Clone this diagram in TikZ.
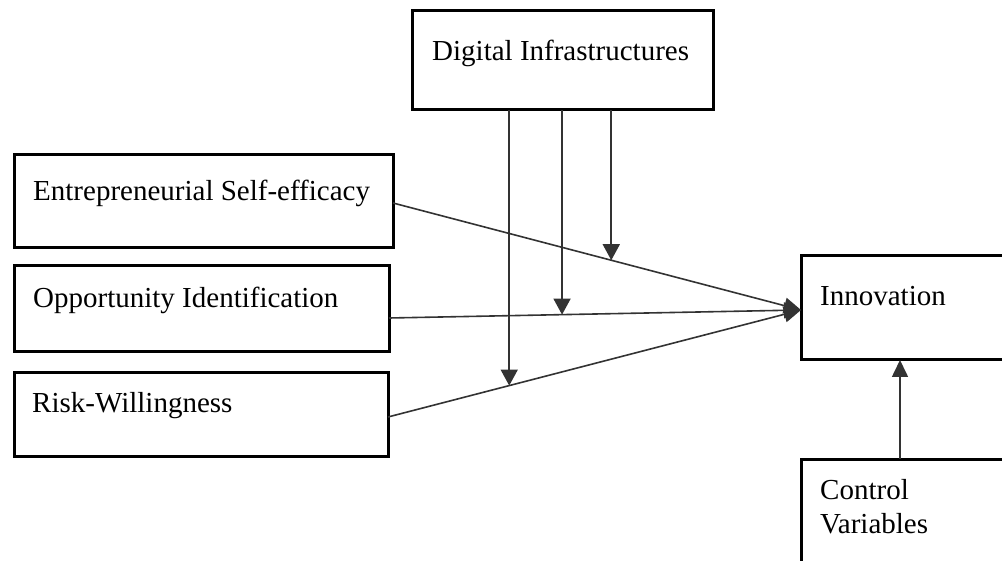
\documentclass[tikz,border=0pt]{standalone}
\usepackage{fontspec}
\setmainfont{Liberation Serif}
\usetikzlibrary{arrows.meta,calc}
\begin{document}
\begin{tikzpicture}[x=1pt,y=-1pt,
  box/.style={draw,line width=3pt,rectangle,inner sep=0pt,outer sep=0pt,anchor=north west},
  lbl/.style={anchor=base west,inner sep=0pt,font=\fontsize{29}{34}\selectfont},
  conn/.style={draw=black!80,line width=1.6pt,-{Triangle[length=17pt,width=16pt]}},
  vconn/.style={draw=black!80,line width=1.6pt,-{Triangle[length=16pt,width=17pt]}}]
\useasboundingbox (0,0) rectangle (1002,561);
\clip (0,0) rectangle (1002,561);
% boxes
\node[box,minimum width=301pt,minimum height=99pt] (di) at (412,11) {};
\node[box,minimum width=379pt,minimum height=93pt] (es) at (14,155) {};
\node[box,minimum width=375pt,minimum height=86pt] (oi) at (14,266) {};
\node[box,minimum width=374pt,minimum height=83pt] (rw) at (14,373) {};
\node[box,minimum width=260pt,minimum height=104pt] (inn) at (801,256) {};
\node[box,minimum width=260pt,minimum height=160pt] (cv) at (801,459) {};
% labels
\node[lbl] (dit) at ($(di.north west)+(20,50)$) {Digital Infrastructures};
\node[lbl] (est) at ($(es.north west)+(19,46)$) {Entrepreneurial Self-efficacy};
\node[lbl] (oit) at ($(oi.north west)+(19,42)$) {Opportunity Identification};
\node[lbl] (rwt) at ($(rw.north west)+(18,40)$) {Risk-Willingness};
\node[lbl] (innt) at ($(inn.north west)+(19,50)$) {Innovation};
\node[lbl] (cvt) at ($(cv.north west)+(19,40)$) {Control};
\node[lbl] (cvt2) at ($(cvt.base west)+(0,34)$) {Variables};
% connector ends
\coordinate (s1) at ($(es.east)+(0,1.5)$);
\coordinate (s2) at ($(oi.east)+(0,9)$);
\coordinate (s3) at ($(rw.east)+(0,2.5)$);
\coordinate (t) at ($(inn.west)+(0,2)$);
\coordinate (m1) at ($(s1)!0.535!(t)$);
\coordinate (m2) at ($(s2)!0.42!(t)$);
\coordinate (m3) at ($(s3)!0.2935!(t)$);
\coordinate (c1) at ($(cv.north west)+(99,0)$);
% connectors
\draw[conn] (s1) -- (t);
\draw[conn] (s2) -- (t);
\draw[conn] (s3) -- (t);
\draw[vconn] (di.south -| m1) -- (m1);
\draw[vconn] (di.south -| m2) -- (m2);
\draw[vconn] (di.south -| m3) -- (m3);
\draw[conn] (c1) -- (c1 |- inn.south);
\end{tikzpicture}
\end{document}
